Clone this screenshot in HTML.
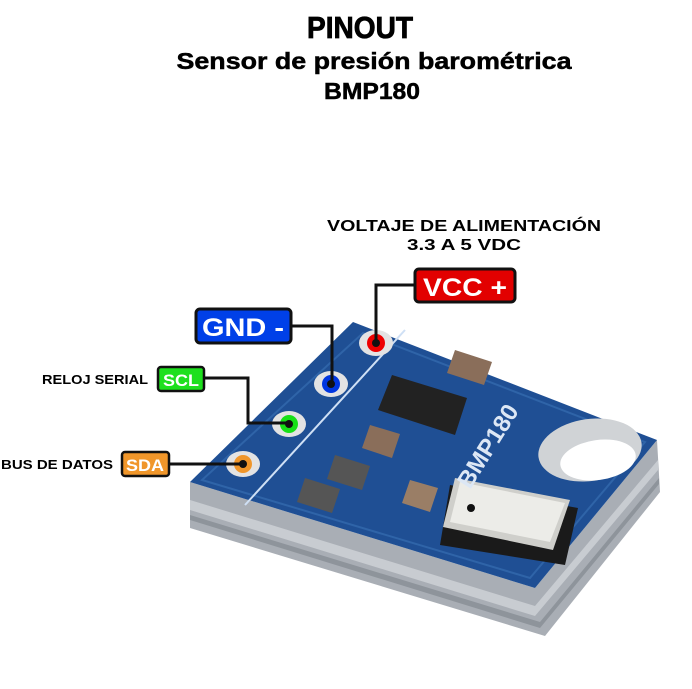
<!DOCTYPE html>
<html><head><meta charset="utf-8"><style>
html,body{margin:0;padding:0;background:#fff}
svg{display:block}
text{font-family:"Liberation Sans",sans-serif;font-weight:bold}
</style></head><body>
<svg width="692" height="689" viewBox="0 0 692 689">
<text x="360" y="38" font-size="31" text-anchor="middle" textLength="106" lengthAdjust="spacingAndGlyphs" stroke="#000" stroke-width="0.8">PINOUT</text>
<text x="374" y="69" font-size="23" text-anchor="middle" textLength="395" lengthAdjust="spacingAndGlyphs" stroke="#000" stroke-width="0.5">Sensor de presión barométrica</text>
<text x="372" y="99" font-size="23" text-anchor="middle" textLength="96" lengthAdjust="spacingAndGlyphs" stroke="#000" stroke-width="0.5">BMP180</text>
<text x="464" y="231" font-size="16" text-anchor="middle" textLength="274" lengthAdjust="spacingAndGlyphs">VOLTAJE DE ALIMENTACIÓN</text>
<text x="464" y="250" font-size="16" text-anchor="middle" textLength="114" lengthAdjust="spacingAndGlyphs">3.3 A 5 VDC</text>
<text x="42" y="384" font-size="13" textLength="106" lengthAdjust="spacingAndGlyphs">RELOJ SERIAL</text>
<text x="1" y="469" font-size="13" textLength="112" lengthAdjust="spacingAndGlyphs">BUS DE DATOS</text>
<!-- board side -->
<polygon points="190,482 535,588 657,440 660,492 545,636 190,528" fill="#a9aeb5"/>
<polygon points="190,500 535,606 658,460 658,470 535,616 190,510" fill="#c8ccd1"/>
<polygon points="190,515 540,622 659,478 659,484 540,628 190,520" fill="#8e949b"/>
<!-- board top -->
<polygon points="353,322 657,440 535,588 190,482" fill="#1f4f94"/>
<polygon points="363,333 645,442 530,578 202,480" fill="none" stroke="#2f64a8" stroke-width="2"/>
<line x1="405" y1="330" x2="245" y2="505" stroke="#cfe0f5" stroke-width="2"/>
<!-- hole -->
<ellipse cx="590" cy="450" rx="52" ry="31" fill="#d0d3d6" transform="rotate(-8 590 450)"/>
<ellipse cx="598" cy="460" rx="38" ry="20" fill="#fff" transform="rotate(-8 598 460)"/>
<!-- chip -->
<polygon points="392,375 467,398 455,435 378,410" fill="#222"/>
<polygon points="455,350 492,362 484,385 447,373" fill="#8a6e5a"/>
<polygon points="370,425 400,434 392,458 362,448" fill="#8a6e5a"/>
<polygon points="410,480 438,488 430,512 402,503" fill="#9a7e66"/>
<polygon points="335,455 370,466 362,490 327,479" fill="#555"/>
<polygon points="305,478 340,489 332,513 297,502" fill="#555"/>
<!-- sensor -->
<polygon points="450,485 578,508 565,565 440,545" fill="#1a1a1a"/>
<polygon points="455,478 570,500 553,550 443,527" fill="#cfcfcb"/>
<polygon points="460,482 565,503 550,542 450,522" fill="#ecece8"/>
<circle cx="471" cy="508" r="4" fill="#111"/>
<text x="0" y="0" font-size="24" fill="#dce7f5" font-weight="normal" transform="translate(470,490) rotate(-58)">BMP180</text>
<!-- pins -->
<g fill="#e3e3e3">
<ellipse cx="376" cy="343" rx="17" ry="13"/>
<ellipse cx="331" cy="384" rx="17" ry="13"/>
<ellipse cx="289" cy="424" rx="17" ry="13"/>
<ellipse cx="243" cy="464" rx="17" ry="13"/>
</g>
<circle cx="376" cy="343" r="9" fill="#e00"/>
<circle cx="331" cy="384" r="9" fill="#0036e0"/>
<circle cx="289" cy="424" r="9" fill="#17e017"/>
<circle cx="243" cy="464" r="9" fill="#f0962a"/>
<g fill="#111"><circle cx="376" cy="343" r="4"/><circle cx="331" cy="384" r="4"/><circle cx="289" cy="424" r="4"/><circle cx="243" cy="464" r="4"/></g>
<!-- connectors -->
<g stroke="#111" stroke-width="3" fill="none">
<polyline points="415,285 376,285 376,343"/>
<polyline points="291,326 332,326 332,384"/>
<polyline points="204,378 248,378 248,423 289,423"/>
<line x1="169" y1="464" x2="243" y2="464"/>
</g>
<!-- labels -->
<rect x="415" y="269" width="100" height="33" rx="4" fill="#e20000" stroke="#111" stroke-width="3"/>
<text x="465" y="296" font-size="25" fill="#fff" text-anchor="middle" textLength="84" lengthAdjust="spacingAndGlyphs">VCC +</text>
<rect x="196" y="309" width="95" height="34" rx="4" fill="#0040e8" stroke="#111" stroke-width="3"/>
<text x="243" y="336" font-size="25" fill="#fff" text-anchor="middle" textLength="82" lengthAdjust="spacingAndGlyphs">GND -</text>
<rect x="158" y="367" width="46" height="24" rx="3" fill="#1ee01e" stroke="#111" stroke-width="2.5"/>
<text x="181" y="386" font-size="17" fill="#fff" text-anchor="middle" textLength="36" lengthAdjust="spacingAndGlyphs">SCL</text>
<rect x="122" y="452" width="47" height="24" rx="3" fill="#f0962a" stroke="#111" stroke-width="2.5"/>
<text x="145" y="471" font-size="17" fill="#fff" text-anchor="middle" textLength="38" lengthAdjust="spacingAndGlyphs">SDA</text>
</svg>
</body></html>
